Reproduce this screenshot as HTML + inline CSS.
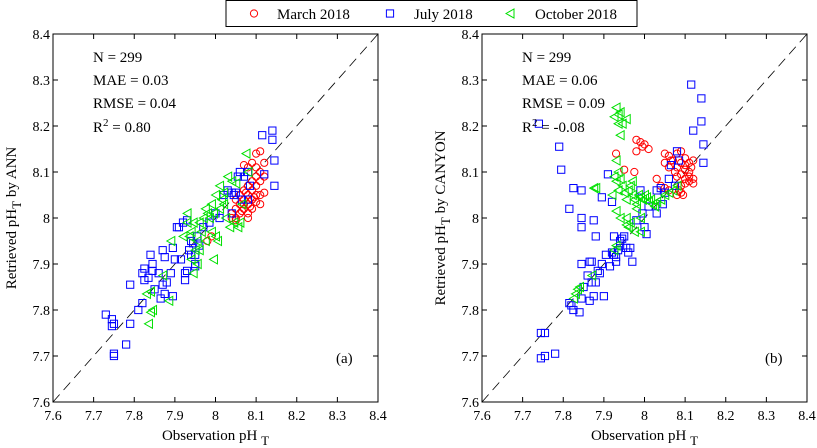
<!DOCTYPE html>
<html><head><meta charset="utf-8"><style>
html,body{margin:0;padding:0;background:#fff;}
svg, svg text{font-family:"Liberation Serif","Times New Roman",serif;}
svg{display:block;}
</style></head><body>
<svg id="chart" width="817" height="448" viewBox="0 0 817 448" xmlns="http://www.w3.org/2000/svg" font-family="Liberation Serif, serif"></svg>
<script>
// ---- data (obs pH_T, retrieved pH_T) ----
const ticks = [7.6,7.7,7.8,7.9,8,8.1,8.2,8.3,8.4];
const tickLabels = ["7.6","7.7","7.8","7.9","8","8.1","8.2","8.3","8.4"];
const seriesNames = ["March 2018","July 2018","October 2018"];

const annMarch = [[8.10,8.14],[8.11,8.145],[8.09,8.12],[8.10,8.11],[8.11,8.10],[8.08,8.11],[8.07,8.115],[8.12,8.12],[8.10,8.09],[8.09,8.08],[8.11,8.08],[8.12,8.09],[8.10,8.07],[8.08,8.07],[8.09,8.06],[8.12,8.055],[8.11,8.05],[8.10,8.05],[8.08,8.05],[8.07,8.06],[8.06,8.05],[8.09,8.04],[8.10,8.035],[8.08,8.03],[8.07,8.03],[8.06,8.03],[8.07,8.02],[8.09,8.02],[8.08,8.01],[8.06,8.01],[8.05,8.02],[8.05,8.00],[8.08,8.00],[8.07,8.04],[8.05,8.04],[8.04,8.01],[8.04,8.00],[8.05,7.995],[7.98,7.95],[7.99,7.96],[8.11,8.03],[8.095,8.045],[8.085,8.025],[8.065,8.015],[8.075,8.055]];
const annJuly = [[7.73,7.79],[7.745,7.78],[7.75,7.77],[7.745,7.765],[7.75,7.705],[7.75,7.70],[7.78,7.725],[7.79,7.77],[7.81,7.80],[7.79,7.855],[7.82,7.815],[7.82,7.88],[7.825,7.89],[7.84,7.92],[7.845,7.90],[7.835,7.87],[7.845,7.885],[7.85,7.845],[7.825,7.865],[7.86,7.88],[7.865,7.825],[7.87,7.93],[7.875,7.915],[7.87,7.855],[7.88,7.86],[7.875,7.835],[7.89,7.88],[7.895,7.935],[7.90,7.91],[7.895,7.83],[7.905,7.98],[7.91,7.98],[7.915,7.91],[7.92,7.99],[7.925,7.88],[7.93,7.885],[7.925,7.865],[7.935,7.93],[7.94,7.92],[7.945,7.945],[7.95,7.92],[7.95,7.90],[7.955,7.96],[7.93,7.995],[7.96,7.94],[7.97,7.98],[7.985,7.99],[8.00,8.01],[8.01,8.00],[8.02,8.05],[8.03,8.06],[8.04,8.055],[8.045,8.05],[8.05,8.055],[8.04,8.01],[8.055,8.09],[8.06,8.10],[8.07,8.09],[8.08,8.10],[8.085,8.07],[8.065,8.04],[8.08,8.04],[8.12,8.095],[8.115,8.18],[8.14,8.19],[8.14,8.17],[8.145,8.125],[8.145,8.07],[7.95,7.895],[7.94,7.95]];
const annOct = [[7.83,7.835],[7.84,7.84],[7.84,7.795],[7.835,7.77],[7.845,7.80],[7.885,7.82],[7.87,7.875],[7.89,7.95],[7.92,7.96],[7.93,7.99],[7.93,8.01],[7.935,7.96],[7.94,7.97],[7.945,7.99],[7.95,7.93],[7.945,7.88],[7.955,7.90],[7.96,7.93],[7.965,7.97],[7.97,8.00],[7.975,8.02],[7.98,8.01],[7.985,8.00],[7.99,7.97],[7.99,8.03],[7.995,7.91],[8.00,7.96],[8.005,7.95],[8.00,8.05],[8.01,8.07],[8.015,8.04],[8.02,8.03],[8.025,8.00],[8.03,8.09],[8.035,7.98],[8.04,8.08],[8.045,7.99],[8.05,8.075],[8.055,7.98],[8.06,7.99],[8.075,8.14],[8.08,8.10],[8.065,8.03],[8.01,8.02],[7.96,7.99],[7.975,7.95],[7.955,7.95],[7.94,7.91],[7.995,8.01],[8.02,8.055]];

const canMarch = [[8.05,8.14],[8.06,8.135],[8.08,8.14],[8.09,8.145],[8.07,8.125],[8.05,8.12],[8.10,8.13],[8.12,8.125],[8.11,8.12],[8.09,8.12],[8.08,8.11],[8.10,8.105],[8.11,8.10],[8.09,8.095],[8.08,8.09],[8.10,8.085],[8.11,8.08],[8.12,8.075],[8.10,8.075],[8.09,8.07],[8.11,8.09],[8.12,8.085],[8.06,8.11],[8.065,8.125],[8.085,8.06],[8.09,8.055],[8.095,8.05],[8.08,8.05],[8.06,8.06],[8.05,8.065],[8.10,8.115],[8.115,8.11],[8.075,8.10],[7.98,8.17],[7.99,8.165],[7.995,8.155],[8.0,8.16],[8.01,8.15],[7.98,8.145],[7.93,8.14],[7.95,8.105],[7.975,8.10],[8.03,8.085],[8.04,8.07]];
const canJuly = [[7.74,8.205],[7.79,8.155],[7.795,8.105],[7.825,8.065],[7.845,8.06],[7.815,8.02],[7.845,8.0],[7.845,7.98],[7.875,7.995],[7.88,7.96],[7.895,8.045],[7.91,8.095],[7.92,8.035],[7.745,7.75],[7.755,7.75],[7.745,7.695],[7.755,7.70],[7.78,7.705],[7.815,7.815],[7.82,7.81],[7.825,7.80],[7.84,7.795],[7.845,7.825],[7.85,7.85],[7.845,7.90],[7.86,7.875],[7.865,7.905],[7.87,7.905],[7.865,7.82],[7.875,7.83],[7.87,7.86],[7.88,7.86],[7.885,7.885],[7.89,7.88],[7.895,7.90],[7.90,7.83],[7.905,7.92],[7.915,7.895],[7.92,7.925],[7.925,7.96],[7.93,7.915],[7.935,7.93],[7.94,7.95],[7.945,7.955],[7.95,7.96],[7.955,7.935],[7.96,7.925],[7.965,7.935],[7.97,7.905],[7.98,7.995],[7.99,8.06],[7.995,8.01],[8.0,7.98],[8.005,7.965],[8.01,8.025],[8.03,8.01],[8.03,8.06],[8.04,8.065],[8.045,8.03],[8.05,8.055],[8.06,8.085],[8.065,8.115],[8.075,8.07],[8.08,8.145],[8.085,8.125],[8.115,8.29],[8.14,8.26],[8.14,8.21],[8.12,8.19],[8.145,8.16],[8.145,8.12],[7.925,7.92],[7.93,7.905],[7.94,7.94]];
const canOct = [[7.93,8.24],[7.935,8.225],[7.925,8.22],[7.94,8.23],[7.945,8.205],[7.955,8.215],[7.935,8.205],[7.94,8.18],[7.93,8.125],[7.935,8.10],[7.925,8.09],[7.93,8.08],[7.94,8.085],[7.945,8.07],[7.935,8.06],[7.92,8.05],[7.875,8.065],[7.88,8.065],[7.95,8.055],[7.955,8.04],[7.96,8.06],[7.97,8.05],[7.975,8.04],[7.98,8.03],[7.985,8.05],[7.99,8.045],[7.995,8.04],[8.0,8.05],[8.005,8.045],[8.01,8.035],[8.015,8.04],[8.02,8.03],[8.025,8.025],[8.03,8.035],[8.04,8.04],[8.05,8.05],[8.06,8.055],[8.07,8.06],[8.08,8.07],[7.93,8.015],[7.965,7.99],[7.955,7.985],[7.96,7.98],[7.975,7.97],[7.99,7.97],[7.99,8.0],[7.98,8.02],[7.87,7.875],[7.83,7.835],[7.825,7.825],[7.835,7.845],[7.84,7.85],[7.93,7.94],[7.925,7.93],[7.97,8.08],[7.965,8.07],[7.94,8.0],[7.955,8.0]];

const NS = "http://www.w3.org/2000/svg";
const svg = document.getElementById("chart");
const FONT = '"Liberation Serif","Times New Roman",serif';
function mk(tag, attrs, parent){
  const e = document.createElementNS(NS, tag);
  for (const k in attrs) e.setAttribute(k, attrs[k]);
  if (tag==="text") e.setAttribute("font-family", FONT);
  (parent||svg).appendChild(e);
  return e;
}
const RED="#ff0000", BLUE="#0000ff", GREEN="#00e000";

function marker(g, type, cx, cy, color){
  let e;
  if (type==="circle"){
    e = mk("circle",{cx:cx,cy:cy,r:3.6,fill:"none",stroke:color,"stroke-width":1},g);
  } else if (type==="square"){
    e = mk("rect",{x:cx-3.6,y:cy-3.6,width:7.2,height:7.2,fill:"none",stroke:color,"stroke-width":1},g);
  } else {
    e = mk("polygon",{points:(cx-4)+","+cy+" "+(cx+4)+","+(cy-4.5)+" "+(cx+4)+","+(cy+4.5),fill:"none",stroke:color,"stroke-width":1},g);
  }
  return e;
}

function panel(id, X0, X1, Y0, Y1, ylab, stats, letter, series){
  const g = mk("g",{});
  
  
  const xs = v => X0 + (v-7.6)/0.8*(X1-X0);
  const ys = v => Y1 - (v-7.6)/0.8*(Y1-Y0);
  const d = mk("line",{x1:xs(7.6),y1:ys(7.6),x2:xs(8.4),y2:ys(8.4),stroke:"#000","stroke-width":0.8,"stroke-dasharray":"10,6"},g);
  
  
  const types=["circle","square","triangle"], cols=[RED,BLUE,GREEN];
  series.forEach((arr,si)=>{
    const sg = mk("g",{},g);
    
    
    arr.forEach(p=>{
      const m = marker(sg, types[si], xs(p[0]), ys(p[1]), cols[si]);
      
      
    });
  });
  const f = mk("rect",{x:X0,y:Y0,width:X1-X0,height:Y1-Y0,fill:"none",stroke:"#000","stroke-width":1},g);
  
  
  ticks.forEach((t,i)=>{
    const x = xs(t), y = ys(t);
    mk("line",{x1:x,y1:Y1,x2:x,y2:Y1-5,stroke:"#000"},g);
    mk("line",{x1:x,y1:Y0,x2:x,y2:Y0+5,stroke:"#000"},g);
    mk("line",{x1:X0,y1:y,x2:X0+5,y2:y,stroke:"#000"},g);
    mk("line",{x1:X1,y1:y,x2:X1-5,y2:y,stroke:"#000"},g);
    const xl = mk("text",{x:x,y:Y1+18,"text-anchor":"middle","font-size":14},g);
    xl.textContent = tickLabels[i];
    
    
    const yl = mk("text",{x:X0-3,y:y+5,"text-anchor":"end","font-size":14},g);
    yl.textContent = tickLabels[i];
    
    
  });
  const xt = mk("text",{x:(X0+X1)/2,y:440,"text-anchor":"middle","font-size":15},g);
  xt.innerHTML = 'Observation pH <tspan dy="5" font-size="13">T</tspan>';
  
  
  const cy = (Y0+Y1)/2;
  const yt = mk("text",{x:0,y:0,"text-anchor":"middle","font-size":15,transform:"translate("+(X0-37)+","+cy+") rotate(-90)"},g);
  yt.innerHTML = 'Retrieved pH<tspan dy="5" font-size="13">T</tspan><tspan dy="-5"> by '+ylab+'</tspan>';
  
  
  const sy=[62,85,108,132];
  stats.forEach((s,i)=>{
    const t = mk("text",{x:X0+40,y:sy[i],"font-size":15},g);
    t.innerHTML = s;
    
    
  });
  const lt = mk("text",{x:X1-42,y:363,"font-size":15},g);
  lt.textContent = letter;
  
  
}

panel("panel-ann",53,378,34,402,"ANN",
  ["N = 299","MAE = 0.03","RMSE = 0.04",'R<tspan dy="-6" font-size="11">2</tspan><tspan dy="6"> = 0.80</tspan>'],
  "(a)",[annMarch,annJuly,annOct]);
panel("panel-canyon",482,807,34,402,"CANYON",
  ["N = 299","MAE = 0.06","RMSE = 0.09",'R<tspan dy="-6" font-size="11">2</tspan><tspan dy="6"> = -0.08</tspan>'],
  "(b)",[canMarch,canJuly,canOct]);

const lg = mk("g",{});


mk("rect",{x:226,y:0.5,width:411,height:26,fill:"#fff",stroke:"#000","stroke-width":1},lg);
const legX=[254,390,510], legTX=[277,414,535], legT=["circle","square","triangle"], legC=[RED,BLUE,GREEN];
seriesNames.forEach((n,i)=>{
  const eg = mk("g",{},lg);
  
  
  marker(eg, legT[i], legX[i], 13.5, legC[i]);
  const t = mk("text",{x:legTX[i],y:19,"font-size":15},eg);
  t.textContent = n;
});
</script>
</body></html>
